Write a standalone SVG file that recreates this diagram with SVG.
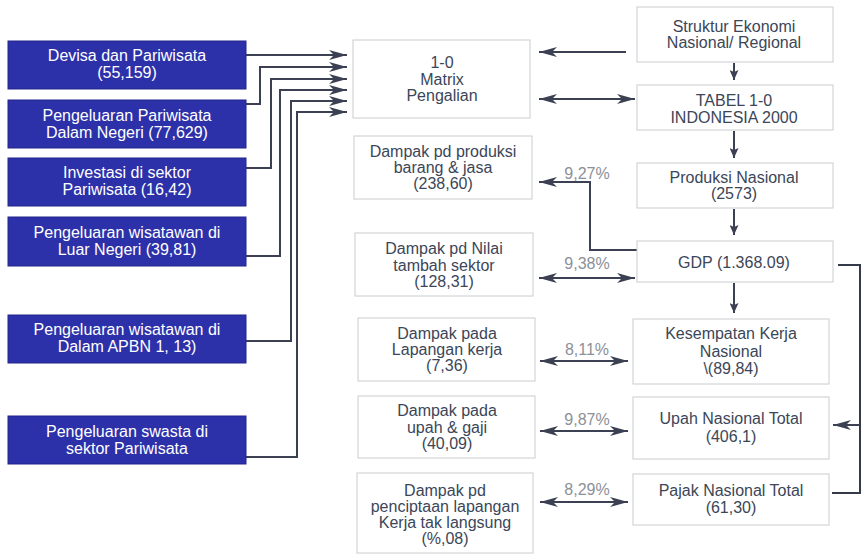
<svg xmlns="http://www.w3.org/2000/svg" width="863" height="554" viewBox="0 0 863 554">
<style>
.bn{fill:#2d31a9;stroke:#23268a;stroke-width:1}
.bt{fill:#ffffff;font-family:"Liberation Sans",Arial,sans-serif;font-size:16px;text-anchor:middle}
.gn{fill:#ffffff;stroke:#c9ccd0;stroke-width:1}
.gt{fill:#3b4658;font-family:"Liberation Sans",Arial,sans-serif;font-size:16px;text-anchor:middle}
.pc{fill:#8c9098;font-family:"Liberation Sans",Arial,sans-serif;font-size:16px;text-anchor:middle}
.ln{fill:none;stroke:#353a4a;stroke-width:2}
.ar{fill:none;stroke:#3b4052;stroke-width:2;marker-end:url(#ah)}
.da{fill:none;stroke:#3b4052;stroke-width:2;marker-start:url(#ah);marker-end:url(#ah)}
.dn{fill:none;stroke:#3b4052;stroke-width:2;marker-end:url(#sh)}
</style>
<defs>
<marker id="ah" viewBox="0 0 18 10" refX="18" refY="5" markerWidth="18" markerHeight="10" markerUnits="userSpaceOnUse" orient="auto-start-reverse">
<path d="M0,0 L18,5 L0,10 L5,5 z" fill="#3b4052"/>
</marker>
<marker id="sh" viewBox="0 0 10 9" refX="10" refY="4.5" markerWidth="10" markerHeight="9" markerUnits="userSpaceOnUse" orient="auto">
<path d="M0,0 L10,4.5 L0,9 L2,4.5 z" fill="#3b4052"/>
</marker>
</defs>
<rect x="0" y="0" width="863" height="554" fill="#ffffff"/>

<g id="connectors">
<path class="ar" d="M246,55 L347,55"/>
<path class="ar" d="M246,104 L260,104 L260,67 L347,67"/>
<path class="ar" d="M246,168 L271,168 L271,79 L347,79"/>
<path class="ar" d="M246,256 L280,256 L280,90 L347,90"/>
<path class="ar" d="M246,341 L291,341 L291,101 L347,101"/>
<path class="ar" d="M246,457 L297,457 L297,112 L347,112"/>
<path class="ar" d="M626,52 L539,52"/>
<path class="da" d="M539,99 L635,99"/>
<path class="dn" d="M734,63 L734,80"/>
<path class="dn" d="M734,131 L734,158"/>
<path class="dn" d="M734,209 L734,235"/>
<path class="dn" d="M734,283 L734,313"/>
<path class="ar" d="M637,250 L590,250 L590,182 L539,182"/>
<path class="da" d="M539,278 L635,278"/>
<path class="da" d="M540,361 L628,361"/>
<path class="da" d="M540,431 L628,431"/>
<path class="da" d="M540,502 L628,502"/>
<path class="ln" d="M838,265 L860,265 L860,493 L832,493"/>
<path class="ar" d="M860,425 L833,425"/>
</g>

<g id="devisa"><rect class="bn" x="8" y="41" width="238" height="48"/><text class="bt" x="127" y="61">Devisa dan Pariwisata</text><text class="bt" x="127" y="78">(55,159)</text></g>
<g id="pengeluaran-dn"><rect class="bn" x="8" y="100" width="238" height="48"/><text class="bt" x="127" y="121">Pengeluaran Pariwisata</text><text class="bt" x="127" y="138">Dalam Negeri (77,629)</text></g>
<g id="investasi"><rect class="bn" x="8" y="158" width="238" height="48"/><text class="bt" x="127" y="178">Investasi di sektor</text><text class="bt" x="127" y="195">Pariwisata (16,42)</text></g>
<g id="wisatawan-ln"><rect class="bn" x="8" y="217" width="238" height="49"/><text class="bt" x="127" y="238">Pengeluaran wisatawan di</text><text class="bt" x="127" y="255">Luar Negeri (39,81)</text></g>
<g id="wisatawan-apbn"><rect class="bn" x="8" y="315" width="238" height="48"/><text class="bt" x="127" y="335">Pengeluaran wisatawan di</text><text class="bt" x="127" y="352">Dalam APBN 1, 13)</text></g>
<g id="swasta"><rect class="bn" x="8" y="416" width="238" height="48"/><text class="bt" x="127" y="437">Pengeluaran swasta di</text><text class="bt" x="127" y="454">sektor Pariwisata</text></g>

<g id="matrix"><rect class="gn" x="353" y="40" width="177" height="78"/><text class="gt" x="442" y="68">1-0</text><text class="gt" x="442" y="85">Matrix</text><text class="gt" x="442" y="101">Pengalian</text></g>
<g id="struktur"><rect class="gn" x="637" y="7" width="196" height="55"/><text class="gt" x="734" y="32">Struktur Ekonomi</text><text class="gt" x="734" y="48">Nasional/ Regional</text></g>
<g id="tabel"><rect class="gn" x="637" y="85" width="196" height="45"/><text class="gt" x="734" y="106">TABEL 1-0</text><text class="gt" x="734" y="123">INDONESIA 2000</text></g>
<g id="produksi"><rect class="gn" x="637" y="163" width="196" height="45"/><text class="gt" x="734" y="183">Produksi Nasional</text><text class="gt" x="734" y="199">(2573)</text></g>
<g id="gdp"><rect class="gn" x="637" y="241" width="196" height="41"/><text class="gt" x="734" y="268">GDP (1.368.09)</text></g>
<g id="kesempatan"><rect class="gn" x="633" y="319" width="196" height="65"/><text class="gt" x="731" y="339">Kesempatan Kerja</text><text class="gt" x="731" y="357">Nasional</text><text class="gt" x="731" y="374">\(89,84)</text></g>
<g id="upah"><rect class="gn" x="633" y="397" width="196" height="62"/><text class="gt" x="731" y="424">Upah Nasional Total</text><text class="gt" x="731" y="442">(406,1)</text></g>
<g id="pajak"><rect class="gn" x="633" y="474" width="196" height="51"/><text class="gt" x="731" y="496">Pajak Nasional Total</text><text class="gt" x="731" y="513">(61,30)</text></g>

<g id="dampak-produksi"><rect class="gn" x="354" y="136" width="178" height="63"/><text class="gt" x="443" y="157">Dampak pd produksi</text><text class="gt" x="443" y="173">barang &amp; jasa</text><text class="gt" x="443" y="189">(238,60)</text></g>
<g id="dampak-nilai"><rect class="gn" x="355" y="233" width="178" height="63"/><text class="gt" x="444" y="254">Dampak pd Nilai</text><text class="gt" x="444" y="271">tambah sektor</text><text class="gt" x="444" y="287">(128,31)</text></g>
<g id="dampak-lapangan"><rect class="gn" x="358" y="318" width="177" height="63"/><text class="gt" x="447" y="339">Dampak pada</text><text class="gt" x="447" y="355">Lapangan kerja</text><text class="gt" x="447" y="371">(7,36)</text></g>
<g id="dampak-upah"><rect class="gn" x="358" y="396" width="177" height="62"/><text class="gt" x="447" y="416">Dampak pada</text><text class="gt" x="447" y="433">upah &amp; gaji</text><text class="gt" x="447" y="449">(40,09)</text></g>
<g id="dampak-penciptaan"><rect class="gn" x="357" y="473" width="176" height="80"/><text class="gt" x="445" y="496">Dampak pd</text><text class="gt" x="445" y="512">penciptaan lapangan</text><text class="gt" x="445" y="528">Kerja tak langsung</text><text class="gt" x="445" y="544">(%,08)</text></g>

<g id="labels">
<text class="pc" x="587" y="179">9,27%</text>
<text class="pc" x="587" y="269">9,38%</text>
<text class="pc" x="587" y="355">8,11%</text>
<text class="pc" x="587" y="425">9,87%</text>
<text class="pc" x="587" y="495">8,29%</text>
</g>
</svg>
